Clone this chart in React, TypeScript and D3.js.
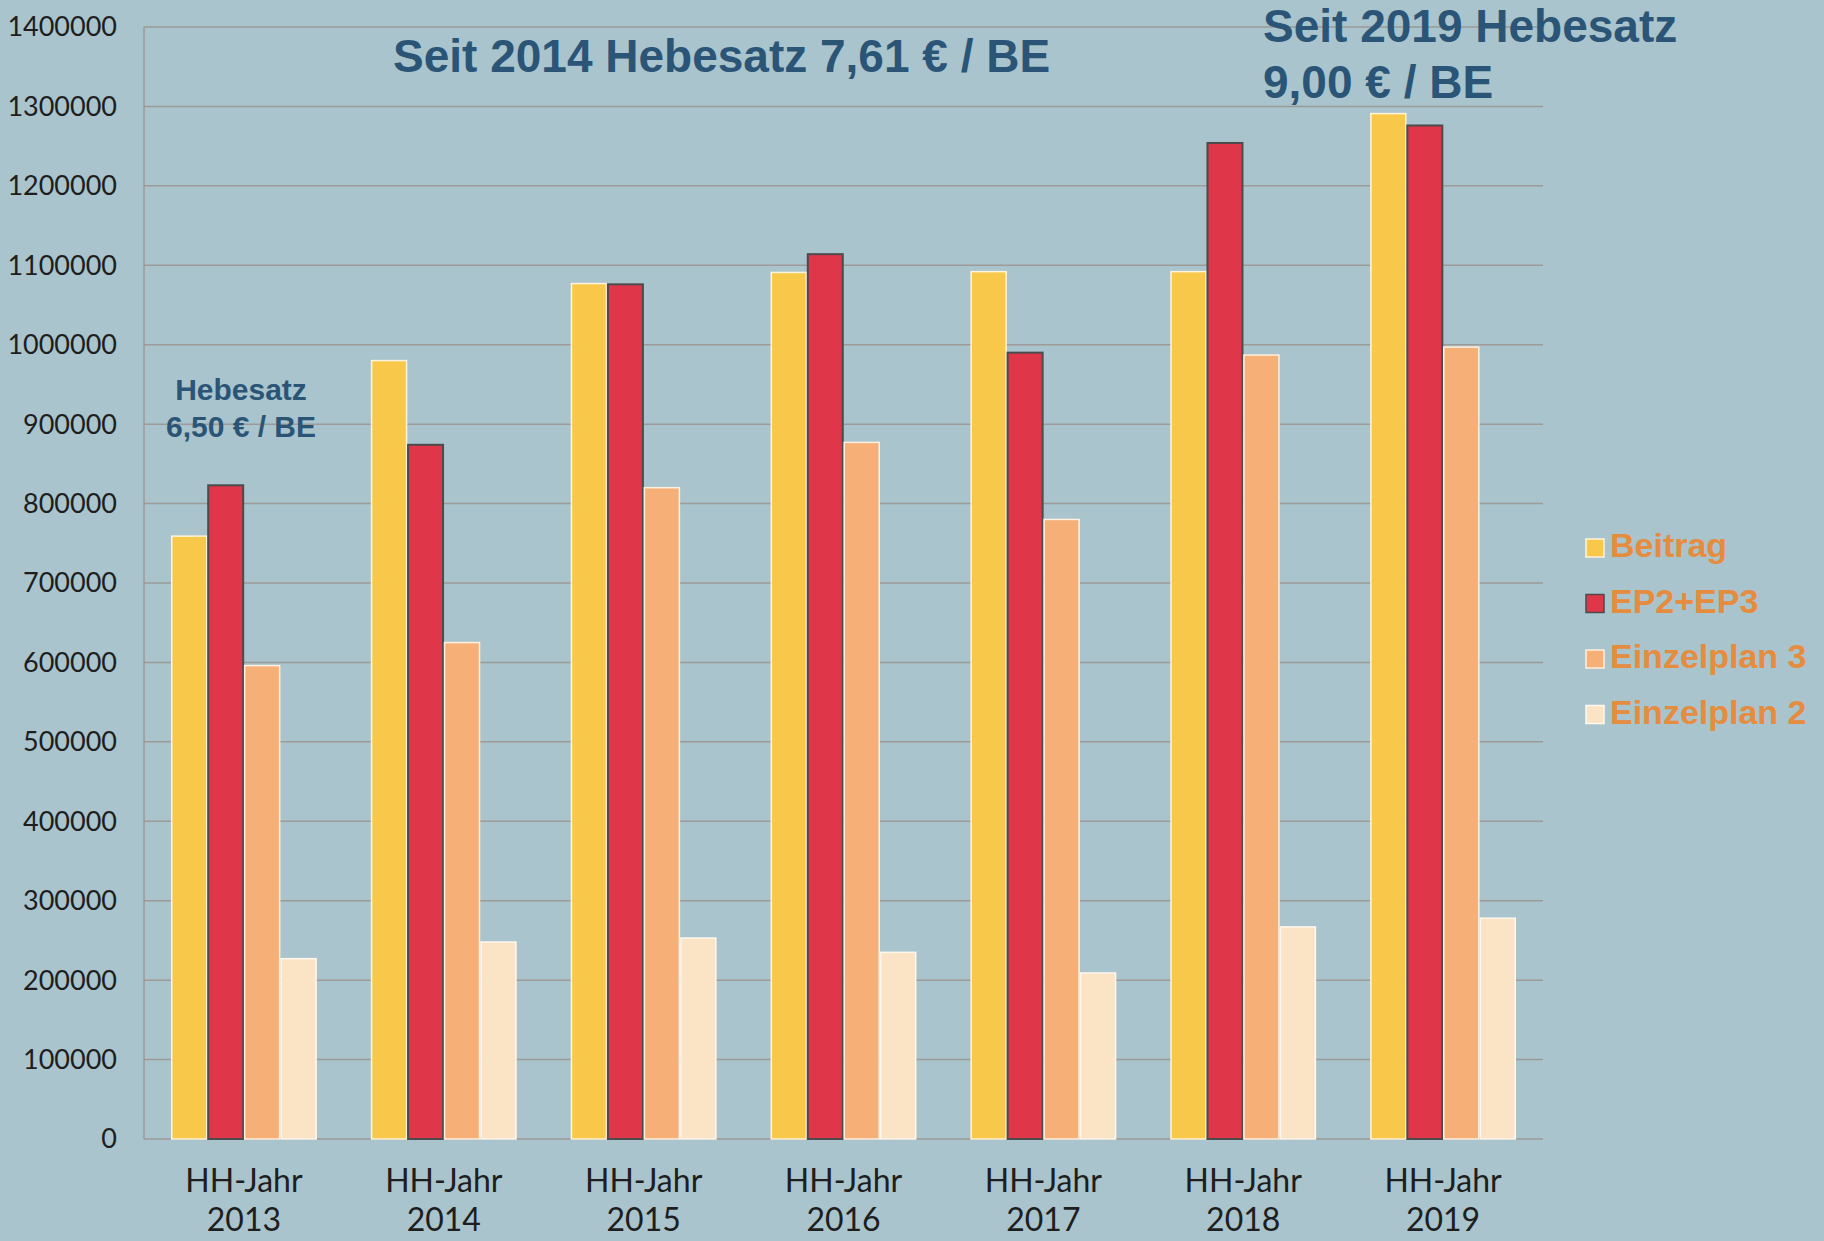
import React, { useRef, useEffect } from 'react';
import * as d3 from 'd3';

// Data
const years = ['2013', '2014', '2015', '2016', '2017', '2018', '2019'];
const seriesNames = ['Beitrag', 'EP2+EP3', 'Einzelplan 3', 'Einzelplan 2'];
const beitrag = [759000, 980000, 1077000, 1091000, 1092000, 1092000, 1291000];
const ep2ep3 = [823000, 874000, 1076000, 1114000, 990000, 1254000, 1276000];
const einzelplan3 = [596000, 625000, 820000, 877000, 780000, 987000, 997000];
const einzelplan2 = [227000, 248000, 253000, 235000, 209000, 267000, 278000];
const yTicks = [0, 100000, 200000, 300000, 400000, 500000, 600000, 700000,
  800000, 900000, 1000000, 1100000, 1200000, 1300000, 1400000];

const seriesValues = [beitrag, ep2ep3, einzelplan3, einzelplan2];
const colors = ['#f8c84a', '#e0364a', '#f5af77', '#fbe3c5'];
const borders = ['#fff4dc', '#4b4b4b', '#fff0e0', '#fff8ee'];

const W = 1824;
const H = 1241;

const App = () => {
  const ref = useRef<SVGSVGElement>(null);

  useEffect(() => {
    const svg = d3.select(ref.current);
    svg.selectAll('*').remove();

    const left = 144, right = 1543, top = 27, bottom = 1139;

    svg.append('rect')
      .attr('width', W)
      .attr('height', H)
      .attr('fill', '#a9c4cc');

    const x0 = d3.scaleBand().domain(years).range([left, right])
      .paddingInner(0.27).paddingOuter(0.135);
    const x1 = d3.scaleBand().domain(seriesNames).range([0, x0.bandwidth()]);
    const y = d3.scaleLinear().domain([0, 1400000]).range([bottom, top]);

    // grid lines
    svg.append('g')
      .selectAll('line')
      .data(yTicks)
      .enter()
      .append('line')
      .attr('x1', left)
      .attr('x2', right)
      .attr('y1', d => y(d))
      .attr('y2', d => y(d))
      .attr('stroke', '#9d9a97')
      .attr('stroke-width', 1.5);

    svg.append('line')
      .attr('x1', left).attr('x2', left)
      .attr('y1', top).attr('y2', bottom)
      .attr('stroke', '#9d9a97')
      .attr('stroke-width', 1.5);

    // y tick labels
    svg.append('g')
      .selectAll('text')
      .data(yTicks)
      .enter()
      .append('text')
      .attr('x', 117)
      .attr('y', d => y(d))
      .attr('dy', '0.35em')
      .attr('text-anchor', 'end')
      .attr('font-family', 'Lato, sans-serif')
      .attr('font-size', 27)
      .attr('fill', '#1e1e1e')
      .text(d => String(d));

    // bars
    seriesValues.forEach((vals, si) => {
      svg.append('g')
        .selectAll('rect')
        .data(vals)
        .enter()
        .append('rect')
        .attr('x', (d, i) => (x0(years[i]) as number) + (x1(seriesNames[si]) as number) + 0.75)
        .attr('y', d => y(d))
        .attr('width', x1.bandwidth() - 1.5)
        .attr('height', d => bottom - y(d))
        .attr('fill', colors[si])
        .attr('stroke', borders[si])
        .attr('stroke-width', si === 1 ? 2 : 1.5);
    });

    // x labels
    const xl = svg.append('g');
    years.forEach(yr => {
      const cx = (x0(yr) as number) + x0.bandwidth() / 2;
      xl.append('text')
        .attr('x', cx)
        .attr('y', 1192)
        .attr('text-anchor', 'middle')
        .attr('font-family', 'Lato, sans-serif')
        .attr('font-size', 32)
        .attr('fill', '#1e1e1e')
        .text('HH-Jahr');
      xl.append('text')
        .attr('x', cx)
        .attr('y', 1231)
        .attr('text-anchor', 'middle')
        .attr('font-family', 'Lato, sans-serif')
        .attr('font-size', 32)
        .attr('fill', '#1e1e1e')
        .text(yr);
    });

    // annotations
    const note = (txt: string, x: number, yy: number, size: number, anchor: string) => {
      svg.append('text')
        .attr('x', x)
        .attr('y', yy)
        .attr('text-anchor', anchor)
        .attr('font-family', '"Liberation Sans", Arial, sans-serif')
        .attr('font-weight', 'bold')
        .attr('font-size', size)
        .attr('fill', '#2b5577')
        .text(txt);
    };
    note('Seit 2014 Hebesatz 7,61 € / BE', 393, 72, 46, 'start');
    note('Seit 2019 Hebesatz', 1263, 42, 46, 'start');
    note('9,00 € / BE', 1263, 98, 46, 'start');
    note('Hebesatz', 241, 400, 30, 'middle');
    note('6,50 € / BE', 241, 437, 30, 'middle');

    // legend
    const legend = svg.append('g').attr('transform', 'translate(1586, 539)');
    seriesNames.forEach((name, i) => {
      const g = legend.append('g').attr('transform', `translate(0, ${i * 55.5})`);
      g.append('rect')
        .attr('width', 18)
        .attr('height', 18)
        .attr('fill', colors[i])
        .attr('stroke', borders[i])
        .attr('stroke-width', 1.5);
      g.append('text')
        .attr('x', 24)
        .attr('y', 18)
        .attr('font-family', '"Liberation Sans", Arial, sans-serif')
        .attr('font-weight', 'bold')
        .attr('font-size', 34)
        .attr('fill', '#e58c3e')
        .text(name);
    });
  }, []);

  return (
    <svg
      ref={ref}
      width={W}
      height={H}
      style={{ position: 'absolute', left: 0, top: 0, display: 'block' }}
    />
  );
};

export default App;
